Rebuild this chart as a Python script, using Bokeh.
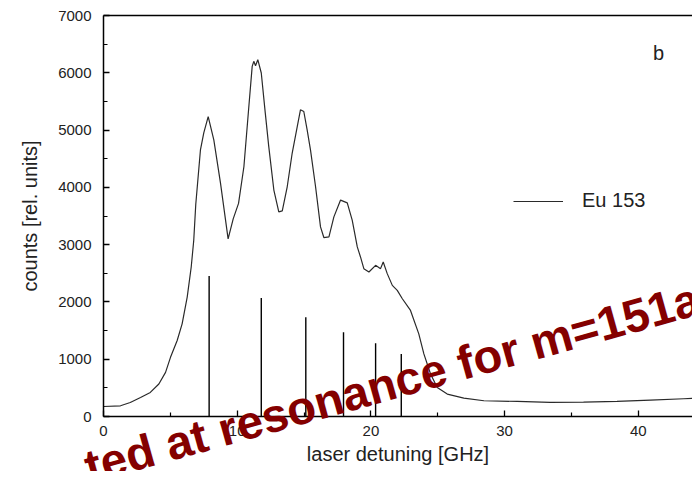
from bokeh.plotting import figure
from bokeh.models import Label, Range1d, Legend, LegendItem, GridBox, Column, LinearAxis, FixedTicker
from bokeh.embed import file_html
from bokeh.resources import INLINE

# spectrum (laser detuning in GHz, counts)
detuning = [0.0, 1.27, 2.0, 2.77, 3.5, 4.14, 4.64, 5.01, 5.51, 5.88, 6.26, 6.56, 6.75, 6.9,
            7.25, 7.5, 7.83, 8.25, 8.75, 9.32, 9.7, 10.1, 10.5, 10.87, 11.12, 11.24, 11.37,
            11.54, 11.8, 12.1, 12.36, 12.74, 13.11, 13.37, 13.74, 14.11, 14.49, 14.73, 14.98,
            15.23, 15.48, 15.86, 16.23, 16.48, 16.86, 17.23, 17.73, 18.23, 18.6, 18.98, 19.22,
            19.47, 19.85, 20.35, 20.72, 20.92, 21.22, 21.6, 21.97, 22.35, 22.96, 23.58, 23.96,
            24.46, 24.96, 25.71, 26.95, 28.45, 30.95, 33.4, 35.9, 38.4, 40.9, 43.4, 44.6]
counts = [175, 187, 245, 333, 420, 567, 771, 1033, 1326, 1618, 2084, 2609, 3077, 3700,
          4653, 4950, 5236, 4828, 4075, 3100, 3450, 3720, 4360, 5411, 6112, 6200, 6124,
          6229, 5996, 5296, 4711, 3953, 3573, 3590, 4010, 4595, 5061, 5354, 5324,
          5003, 4653, 4010, 3310, 3124, 3135, 3485, 3778, 3730, 3427, 2960, 2785,
          2581, 2522, 2639, 2581, 2697, 2494, 2289, 2201, 2056, 1851, 1443, 1093,
          742, 508, 392, 322, 275, 263, 245, 252, 263, 287, 310, 322]

# calculated line positions and strengths
stick_pos = [7.9, 11.8, 15.13, 17.95, 20.35, 22.27]
stick_height = [2452, 2067, 1734, 1471, 1278, 1093]
stick_base = [0, 0, 0, 0, 0, 0]

x_ticks = [0, 10, 20, 30, 40]
x_minor = [5, 15, 25, 35]
y_ticks = [0, 1000, 2000, 3000, 4000, 5000, 6000, 7000]
y_minor = [500, 1500, 2500, 3500, 4500, 5500, 6500]

FONT = "Liberation Sans"
W, H = 692, 471
B_LEFT, B_TOP, B_BOTTOM = 103, 15, 55
X_END, Y_END = 44.05, 7000

p = figure(width=W, height=H, output_backend="svg", toolbar_location=None,
           x_range=Range1d(0, X_END), y_range=Range1d(0, Y_END),
           min_border_left=B_LEFT, min_border_right=0, min_border_top=B_TOP,
           min_border_bottom=B_BOTTOM)
p.background_fill_color = "white"
p.border_fill_color = "white"
p.outline_line_color = None
p.xgrid.visible = False
p.ygrid.visible = False

line = p.line(detuning, counts, line_color="#2a2a2a", line_width=1.2)
p.segment(x0=stick_pos, y0=stick_base, x1=stick_pos, y1=stick_height,
          line_color="black", line_width=1.4)

xa = p.below[0]
ya = p.left[0]
for ax in (xa, ya):
    ax.axis_line_width = 1.5
    ax.axis_line_color = "black"
    ax.major_tick_in = 6
    ax.major_tick_out = 0
    ax.minor_tick_in = 4
    ax.minor_tick_out = 0
    ax.major_tick_line_width = 1.3
    ax.minor_tick_line_width = 1.2
    ax.major_label_text_font = FONT
    ax.major_label_text_font_size = "15px"
    ax.major_label_text_color = "#222222"
    ax.axis_label_text_font = FONT
    ax.axis_label_text_font_size = "20px"
    ax.axis_label_text_font_style = "normal"
    ax.axis_label_text_color = "#222222"

xa.ticker = FixedTicker(ticks=x_ticks, minor_ticks=x_minor)
ya.ticker = FixedTicker(ticks=y_ticks, minor_ticks=y_minor)
xa.major_label_standoff = 9
ya.major_label_standoff = 12
xa.axis_label = "laser detuning [GHz]"
ya.axis_label = "counts [rel. units]"
xa.axis_label_standoff = 4
ya.axis_label_standoff = 14

# top frame line only (the right side of the frame is cut off in the original)
top_axis = LinearAxis(ticker=FixedTicker(ticks=[]), axis_line_width=1.5,
                      axis_line_color="black", major_tick_in=0, major_tick_out=0,
                      minor_tick_in=0, minor_tick_out=0, major_label_standoff=0)
p.add_layout(top_axis, "above")

legend = Legend(items=[LegendItem(label="Eu 153", renderers=[line])],
                location=(410, 204), padding=0, margin=0,
                glyph_width=50, label_standoff=19,
                label_text_font=FONT, label_text_font_size="20px",
                label_text_color="#222222",
                border_line_color=None, background_fill_alpha=0)
p.add_layout(legend)

p.add_layout(Label(x=41.1, y=6150, text="b", text_font=FONT,
                   text_font_size="20px", text_color="#222222"))

# transparent overlay with the same data coordinates, spanning the whole canvas,
# so the stamped text is not clipped to the plot frame
px_per_x = (W - B_LEFT) / X_END
px_per_y = (H - B_TOP - B_BOTTOM) / Y_END
ov = figure(width=W, height=H, output_backend="svg", toolbar_location=None,
            x_axis_type=None, y_axis_type=None, min_border=0,
            x_range=Range1d(-B_LEFT / px_per_x, X_END),
            y_range=Range1d(-B_BOTTOM / px_per_y, Y_END + B_TOP / px_per_y))
ov.outline_line_color = None
ov.background_fill_alpha = 0
ov.border_fill_alpha = 0
ov.add_layout(Label(x=-1.34, y=-891, text="ted at resonance for m=151a",
                    angle=0.2705, text_font=FONT, text_font_size="47px",
                    text_font_style="bold", text_color="#840000",
                    text_align="left", text_baseline="alphabetic"))

layout = GridBox(children=[(p, 0, 0), (Column(children=[ov]), 0, 0)])

open("out.html", "w").write(file_html(layout, INLINE))
